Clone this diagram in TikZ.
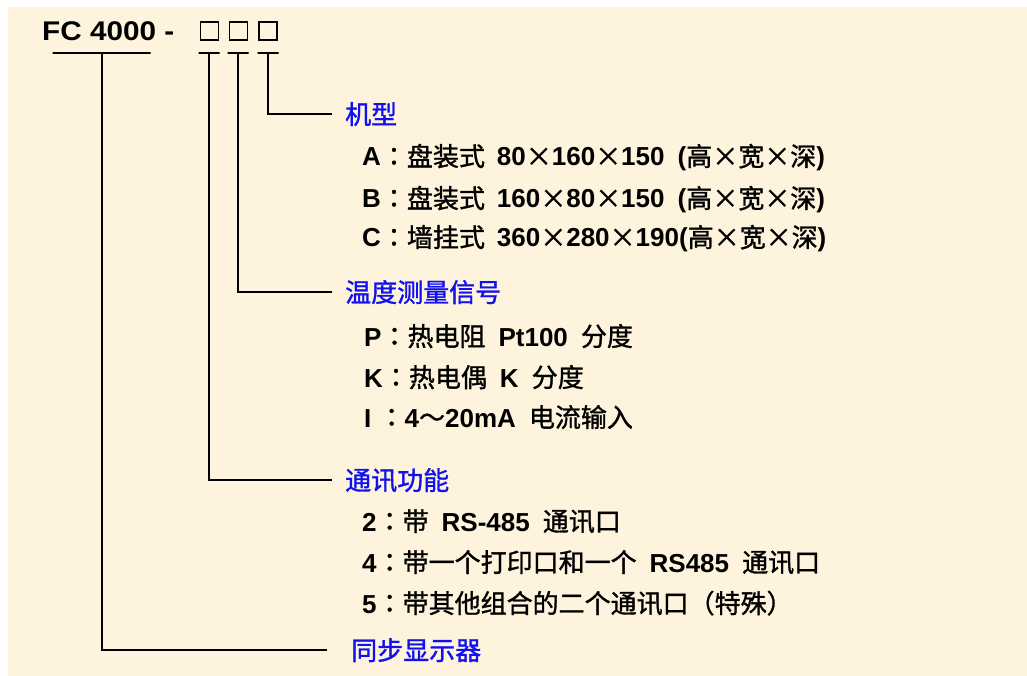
\documentclass[tikz,border=0pt]{standalone}
\usepackage{fontspec}
\setmainfont{Noto Sans CJK SC}[FakeBold=1.2]
\newfontfamily\enfont{Liberation Sans}
\newfontfamily\titlefont{Liberation Sans}[FakeStretch=1.1]
\newfontfamily\jpfont{Noto Sans CJK JP}[FakeBold=1.2]
\newcommand{\en}[1]{{\enfont\bfseries #1}}
\newcommand{\cln}{{\jpfont ：}}
\newcommand{\gap}{\hspace{0.5em}}
\definecolor{cream}{RGB}{254,243,220}
\definecolor{lblblue}{RGB}{16,16,240}

\tikzset{
  wire/.style={line width=1.6pt, black},
  bar/.style={draw, line width=1.6pt, minimum height=0pt, inner sep=0pt, minimum width=21pt},
  slot/.style={draw, line width=1.2pt, minimum width=18pt, minimum height=18pt, inner sep=0pt},
  lbl/.style={anchor=west, text=lblblue, inner xsep=13pt, inner ysep=0pt,
    text height=23pt, text depth=3pt, font=\fontsize{26}{30}\selectfont},
  item/.style={anchor=west, inner sep=0pt, text height=23pt, text depth=3pt,
    font=\fontsize{26}{30}\selectfont}
}

\begin{document}
\begin{tikzpicture}[x=1pt, y=-1pt]

    \useasboundingbox (0,0) rectangle (1027,676);
    \fill[cream] (8,7) rectangle (1027,676);

    % model code
    \node[anchor=west, inner sep=0pt, text height=19pt, text depth=0pt,
      font=\fontsize{27}{30}\selectfont] (fc) at (42,31) {\titlefont\bfseries FC 4000 -};
    \node[slot] (b1) at (209.5,31) {};
    \node[slot] (b2) at (238.5,31) {};
    \node[slot] (b3) at (268,31) {};

    \node[bar, minimum width=98pt] (u0) at (101.7,53) {};
    \node[bar] (u1) at (209,53) {};
    \node[bar] (u2) at (238,53) {};
    \node[bar] (u3) at (268,53) {};

    % headings
    \node[lbl] (jx) at (332,114) {机型};
    \node[lbl] (wd) at (332,292) {温度测量信号};
    \node[lbl] (tx) at (332,480) {通讯功能};
    \node[lbl, inner xsep=24pt] (tb) at (327,650) {同步显示器};

    \draw[wire] (u3.center) |- (jx.west);
    \draw[wire] (u2.center) |- (wd.west);
    \draw[wire] (u1.center) |- (tx.west);
    \draw[wire] (u0.center) |- (tb.west);

    % options
    \node[item] (ia) at (362,156) {\en{A}\cln 盘装式\hspace{0.46em}\en{80}×\en{160}×\en{150}\gap\en{(}高×宽×深\en{)}};
    \node[item] (ib) at (362,198) {\en{B}\cln 盘装式\hspace{0.46em}\en{160}×\en{80}×\en{150}\gap\en{(}高×宽×深\en{)}};
    \node[item] (ic) at (362,237) {\en{C}\cln 墙挂式\hspace{0.46em}\en{360}×\en{280}×\en{190(}高×宽×深\en{)}};

    \node[item] (ip) at (364,336) {\en{P}\cln 热电阻\gap\en{Pt100}\gap 分度};
    \node[item] (ik) at (364,377) {\en{K}\cln 热电偶\gap\en{K}\gap 分度};
    \node[item] (ii) at (364,417) {\en{I\ }\cln\en{4}～\en{20mA}\gap 电流输入};

    \node[item] (i2) at (362,521) {\en{2}\cln 带\gap\en{RS-485}\gap 通讯口};
    \node[item] (i4) at (362,562) {\en{4}\cln 带一个打印口和一个\gap\en{RS485}\gap 通讯口};
    \node[item] (i5) at (362,603) {\en{5}\cln 带其他组合的二个通讯口（特殊）};

\end{tikzpicture}
\end{document}
